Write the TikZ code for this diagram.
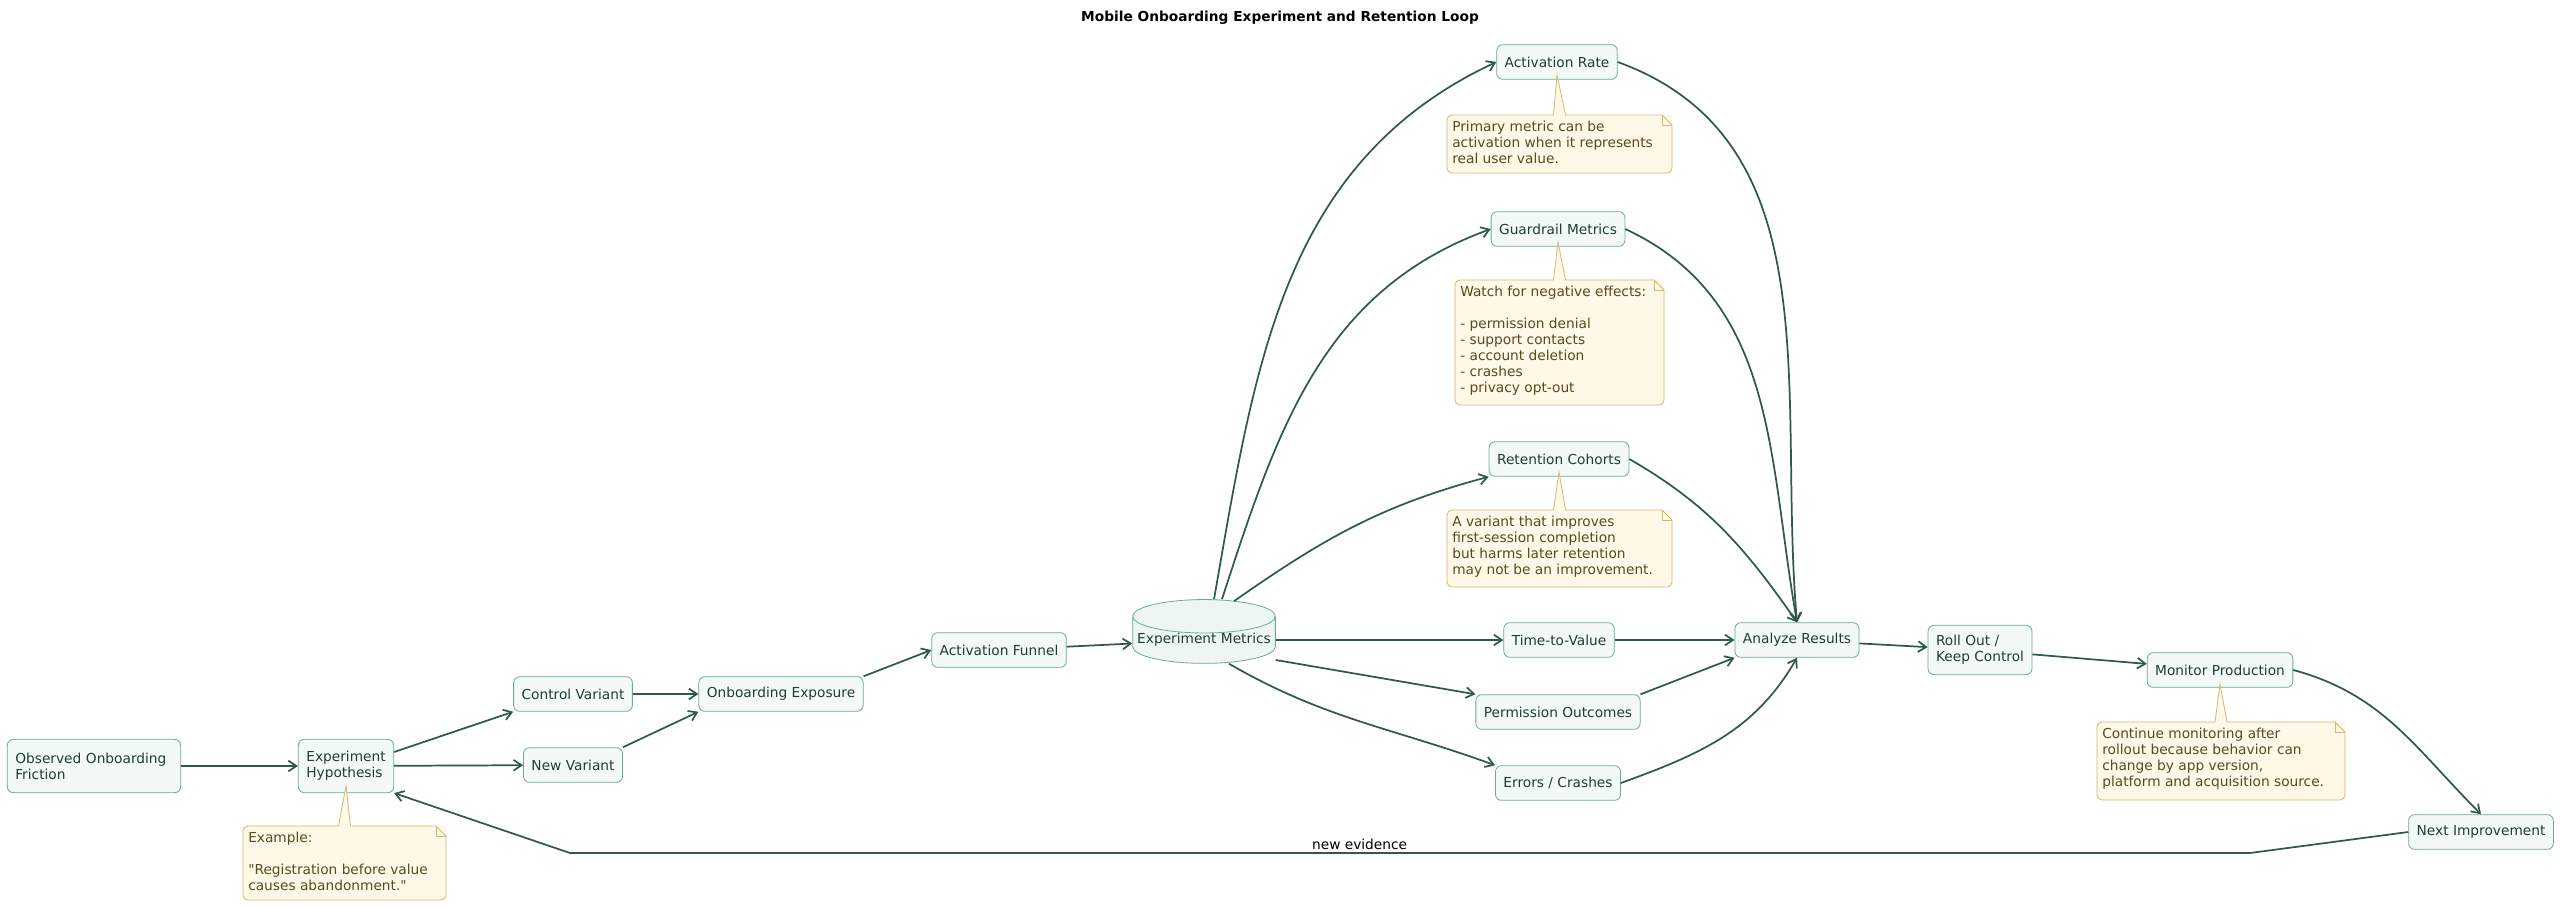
\documentclass[tikz,border=0pt]{standalone}
\usepackage{fontspec}
\setmainfont{DejaVu Sans}[Ligatures=TeXOff]
\usetikzlibrary{shapes.geometric,arrows.meta}
\definecolor{nfill}{HTML}{F3F9F7}
\definecolor{nborder}{HTML}{6AAA92}
\definecolor{arr}{HTML}{2E5A4B}
\definecolor{ntext}{HTML}{1F3D33}
\definecolor{qfill}{HTML}{FFF8E7}
\definecolor{qborder}{HTML}{D4B872}
\definecolor{qtext}{HTML}{5A4A1F}
\tikzset{
 box/.style={draw=nborder,fill=nfill,rounded corners=4.5pt,text=ntext,font=\fontsize{10.3}{12}\selectfont,align=left,inner xsep=6pt,inner ysep=0pt,minimum height=26pt,line width=0.6pt},
 e/.style={draw=arr,line width=1.3pt,-{Straight Barb[length=6pt,width=8pt]}},
 qt/.style={text=qtext,font=\fontsize{10.3}{12}\selectfont,align=left,anchor=north west,inner sep=0pt},
 qb/.style={draw=qborder,fill=qfill,line width=0.6pt},
}
\newcommand{\mynote}[7]{% name x1 y1 x2 y2 text tip
 \fill[qfill] (#2,#3) rectangle (#4,#5);
 \draw[qb] (#2+5,#3) -- ({(#2+#4)/2-6},#3) -- #7 -- ({(#2+#4)/2+6},#3) -- (#4-10,#3) -- (#4,#3+10) -- (#4,#5-5) arc(0:90:5) -- (#2+5,#5) arc(90:180:5) -- (#2,#3+5) arc(180:270:5) -- cycle;
 \draw[qborder,line width=0.6pt] (#4-10,#3) -- (#4-10,#3+10) -- (#4,#3+10);
 \node[qt] (#1) at (#2+5,#3+6) {#6};
}
\begin{document}
\begin{tikzpicture}[x=0.75pt,y=-0.75pt]
\useasboundingbox (0,0) rectangle (2561,906);
\node[font=\bfseries\fontsize{10.3}{12}\selectfont] (title) at (1280,18) {Mobile Onboarding Experiment and Retention Loop};
\node[box,minimum height=40pt,text width=118pt] (obs) at (94,766) {Observed Onboarding\\Friction};
\node[box,minimum height=40pt] (hyp) at (346,766) {Experiment\\Hypothesis};
\node[box] (ctl) at (573,694) {Control Variant};
\node[box] (new) at (573,765) {New Variant};
\node[box] (exp) at (781,694) {Onboarding Exposure};
\node[box] (fun) at (999,650) {Activation Funnel};
\node[cylinder,shape border rotate=90,aspect=0.25,draw=nborder,fill=nfill!60!nborder!25,text=ntext,font=\fontsize{10.3}{12}\selectfont,minimum width=107pt,minimum height=34pt,inner sep=0pt,line width=0.6pt] (met) at (1204,640) {\raisebox{-6pt}{Experiment Metrics}};
\node[box] (act) at (1557,62) {Activation Rate};
\node[box] (gua) at (1558,229) {Guardrail Metrics};
\node[box] (ret) at (1559,459) {Retention Cohorts};
\node[box] (ttv) at (1559,640) {Time-to-Value};
\node[box] (per) at (1558,712) {Permission Outcomes};
\node[box] (err) at (1558,783) {Errors / Crashes};
\node[box] (ana) at (1797,640) {Analyze Results};
\node[box,minimum height=37pt] (rol) at (1980,650) {Roll Out /\\Keep Control};
\node[box] (mon) at (2220,670) {Monitor Production};
\node[box] (nxt) at (2481,832) {Next Improvement};
\mynote{n0}{243}{826}{446}{900}{Example:\\[12pt]"Registration before value\\causes abandonment."}{(346,786)}
\mynote{n1}{1447}{115}{1672}{173}{Primary metric can be\\activation when it represents\\real user value.}{(1557,75)}
\mynote{n2}{1455}{280}{1664}{405}{Watch for negative effects:\\[12pt]- permission denial\\- support contacts\\- account deletion\\- crashes\\- privacy opt-out}{(1558,242)}
\mynote{n3}{1447}{510}{1672}{587}{A variant that improves\\first-session completion\\but harms later retention\\may not be an improvement.}{(1559,472)}
\mynote{n4}{2097}{722}{2345}{800}{Continue monitoring after\\rollout because behavior can\\change by app version,\\platform and acquisition source.}{(2220,684)}
\draw[e] (obs) -- (hyp);
\draw[e] (hyp.east |- 0,752) -- (ctl.south west);
\draw[e] (hyp) -- (new);
\draw[e] (ctl) -- (exp);
\draw[e] (new.north east) -- (exp.south west);
\draw[e] (exp.north east) -- (fun.west);
\draw[e] (fun) -- (met);
\draw[e] (met.north) ++(10,0) coordinate (m1) (m1) to[out=80,in=205] (act.west);
\draw[e] (met.north) ++(18,0) coordinate (m2) (m2) to[out=72,in=200] (gua.west);
\draw[e] (met.north) ++(30,2) coordinate (m3) (m3) to[out=35,in=195] (ret.south west);
\draw[e] (met) -- (ttv);
\draw[e] (met.east |- 0,660) -- (per.north west);
\draw[e] (met.south) ++(25,0) coordinate (m4) (m4) to[out=-30,in=160] (err.north west);
\draw[e] (act.east) to[out=-20,in=95] (ana.north);
\draw[e] (gua.east) to[out=-25,in=100] (ana.north);
\draw[e] (ret.east) to[out=-30,in=125] (ana.north);
\draw[e] (ttv) -- (ana);
\draw[e] (per.north east) -- (ana.south west);
\draw[e] (err.east) to[out=20,in=-120] (ana.south);
\draw[e] (ana) -- (rol);
\draw[e] (rol) -- (mon);
\draw[e] (mon.east) to[out=-15,in=135] (nxt.north);
\coordinate (f1) at (2250,853);
\coordinate (f2) at (570,853);
\draw[e] (nxt.west) -- (f1) -- node[above,font=\fontsize{10.3}{12}\selectfont,pos=0.53,inner sep=1.5pt] (lbl) {new evidence} (f2) -- (hyp.south east);
\end{tikzpicture}
\end{document}
